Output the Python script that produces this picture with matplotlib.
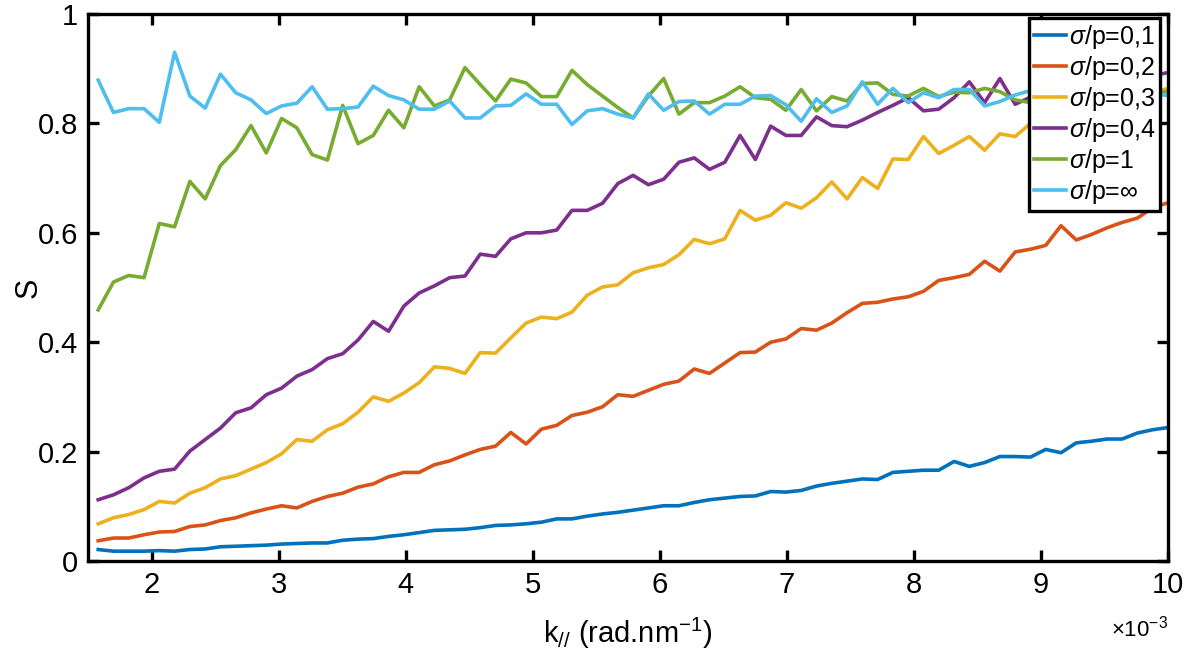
import numpy as np
import matplotlib
matplotlib.use('Agg')
import matplotlib.pyplot as plt

plt.rcParams['font.family'] = ['Liberation Sans', 'DejaVu Sans']
plt.rcParams['mathtext.fontset'] = 'custom'
plt.rcParams['mathtext.rm'] = 'Liberation Sans'
plt.rcParams['mathtext.it'] = 'Liberation Sans:italic'

# k_// in units of 1e-3 rad/nm
k = np.linspace(1.58, 10.0, 71)

s_01 = [0.021, 0.018, 0.018, 0.018, 0.019, 0.018, 0.021, 0.022, 0.026, 0.027,
        0.028, 0.029, 0.031, 0.032, 0.033, 0.033, 0.038, 0.040, 0.041, 0.045,
        0.048, 0.052, 0.056, 0.057, 0.058, 0.061, 0.065, 0.066, 0.068, 0.071,
        0.077, 0.077, 0.082, 0.086, 0.089, 0.093, 0.097, 0.101, 0.101, 0.107,
        0.112, 0.115, 0.118, 0.119, 0.127, 0.126, 0.129, 0.137, 0.142, 0.146,
        0.150, 0.149, 0.162, 0.164, 0.166, 0.166, 0.182, 0.173, 0.180, 0.191,
        0.191, 0.190, 0.204, 0.198, 0.216, 0.219, 0.223, 0.223, 0.234, 0.240,
        0.244]
s_02 = [0.037, 0.042, 0.042, 0.048, 0.053, 0.054, 0.063, 0.066, 0.074, 0.079,
        0.088, 0.095, 0.101, 0.097, 0.109, 0.118, 0.124, 0.135, 0.141, 0.154,
        0.162, 0.162, 0.176, 0.183, 0.194, 0.204, 0.210, 0.235, 0.214, 0.241,
        0.248, 0.266, 0.272, 0.282, 0.304, 0.301, 0.312, 0.323, 0.329, 0.351,
        0.343, 0.362, 0.381, 0.382, 0.400, 0.406, 0.425, 0.422, 0.435, 0.454,
        0.471, 0.473, 0.479, 0.483, 0.493, 0.513, 0.518, 0.524, 0.548, 0.530,
        0.565, 0.570, 0.577, 0.613, 0.587, 0.597, 0.609, 0.619, 0.627, 0.646,
        0.655]
s_03 = [0.068, 0.079, 0.085, 0.094, 0.109, 0.106, 0.124, 0.134, 0.150, 0.156,
        0.168, 0.180, 0.196, 0.222, 0.219, 0.240, 0.251, 0.272, 0.300, 0.292,
        0.307, 0.326, 0.355, 0.352, 0.343, 0.381, 0.380, 0.408, 0.435, 0.446,
        0.443, 0.455, 0.486, 0.501, 0.505, 0.527, 0.536, 0.542, 0.560, 0.588,
        0.580, 0.589, 0.641, 0.623, 0.632, 0.655, 0.645, 0.664, 0.693, 0.662,
        0.701, 0.681, 0.735, 0.734, 0.776, 0.745, 0.760, 0.776, 0.751, 0.781,
        0.776, 0.800, 0.790, 0.812, 0.820, 0.835, 0.828, 0.845, 0.840, 0.856,
        0.864]
s_04 = [0.112, 0.121, 0.134, 0.152, 0.164, 0.168, 0.201, 0.222, 0.243, 0.271,
        0.280, 0.304, 0.316, 0.338, 0.350, 0.370, 0.379, 0.404, 0.438, 0.420,
        0.466, 0.490, 0.503, 0.518, 0.521, 0.561, 0.557, 0.589, 0.600, 0.600,
        0.605, 0.641, 0.641, 0.654, 0.690, 0.705, 0.688, 0.698, 0.729, 0.737,
        0.716, 0.729, 0.778, 0.734, 0.795, 0.778, 0.778, 0.812, 0.796, 0.794,
        0.806, 0.820, 0.833, 0.847, 0.823, 0.826, 0.847, 0.876, 0.838, 0.882,
        0.835, 0.848, 0.870, 0.852, 0.866, 0.878, 0.869, 0.884, 0.876, 0.887,
        0.893]
s_1 = [0.459, 0.510, 0.522, 0.518, 0.617, 0.611, 0.694, 0.662, 0.723, 0.752,
       0.796, 0.746, 0.809, 0.792, 0.743, 0.733, 0.833, 0.763, 0.778, 0.824,
       0.792, 0.867, 0.832, 0.843, 0.902, 0.871, 0.841, 0.881, 0.874, 0.849,
       0.849, 0.897, 0.871, 0.850, 0.829, 0.810, 0.850, 0.882, 0.817, 0.838,
       0.838, 0.850, 0.867, 0.847, 0.844, 0.824, 0.862, 0.823, 0.849, 0.841,
       0.873, 0.874, 0.853, 0.850, 0.864, 0.849, 0.857, 0.856, 0.864, 0.858,
       0.843, 0.838, 0.847, 0.852, 0.846, 0.855, 0.850, 0.858, 0.853, 0.857,
       0.858]
s_inf = [0.879, 0.820, 0.827, 0.827, 0.802, 0.930, 0.850, 0.828, 0.890, 0.856,
         0.843, 0.818, 0.832, 0.837, 0.867, 0.826, 0.827, 0.830, 0.868, 0.851,
         0.843, 0.826, 0.826, 0.841, 0.810, 0.810, 0.832, 0.833, 0.854, 0.835,
         0.835, 0.798, 0.823, 0.827, 0.817, 0.810, 0.854, 0.824, 0.840, 0.841,
         0.817, 0.835, 0.835, 0.850, 0.851, 0.834, 0.804, 0.845, 0.820, 0.832,
         0.876, 0.835, 0.864, 0.838, 0.856, 0.847, 0.862, 0.862, 0.832, 0.840,
         0.852, 0.860, 0.864, 0.858, 0.862, 0.855, 0.860, 0.853, 0.858, 0.855,
         0.851]

series = [s_01, s_02, s_03, s_04, s_1, s_inf]
labels = [r'$\sigma$/p=0,1', r'$\sigma$/p=0,2', r'$\sigma$/p=0,3',
          r'$\sigma$/p=0,4', r'$\sigma$/p=1', r'$\sigma$/p=$\infty$']
colors = ['#0072BD', '#D95319', '#EDB120', '#7E2F8E', '#77AC30', '#4DBEEE']

fig = plt.figure(figsize=(11.91, 6.55), dpi=100)
ax = fig.add_axes([0.0739, 0.1435, 0.9068, 0.8351])

for s, lab, c in zip(series, labels, colors):
    ax.plot(k, s, color=c, lw=2.6, label=lab)

ax.set_xlim(1.5, 10)
ax.set_ylim(0, 1)
ax.set_xticks(range(2, 11))
ax.set_yticks([0, 0.2, 0.4, 0.6, 0.8, 1])
ax.set_yticklabels(['0', '0.2', '0.4', '0.6', '0.8', '1'])

for sp in ax.spines.values():
    sp.set_linewidth(2.4)
ax.tick_params(direction='in', length=8, width=2.4, labelsize=21,
               top=True, right=True, pad=7)

ax.set_ylabel('S', fontsize=22)
ax.yaxis.set_label_coords(-0.041, 0.5)
ax.set_xlabel(r'k$_{//}$ (rad.nm$^{-1}$)', fontsize=21, labelpad=12)
ax.text(1.0, -0.1, r'$\times$10$^{-3}$', transform=ax.transAxes,
        ha='right', va='top', fontsize=16)

leg = ax.legend(loc='upper right', bbox_to_anchor=(0.993, 0.993), fontsize=18,
                handlelength=1.3, handletextpad=0.1, labelspacing=0.12,
                borderpad=0.2, borderaxespad=0, fancybox=False, framealpha=1)
leg.get_frame().set_edgecolor('black')
leg.get_frame().set_linewidth(2.4)

fig.savefig('out.png', dpi=100, facecolor='white')
